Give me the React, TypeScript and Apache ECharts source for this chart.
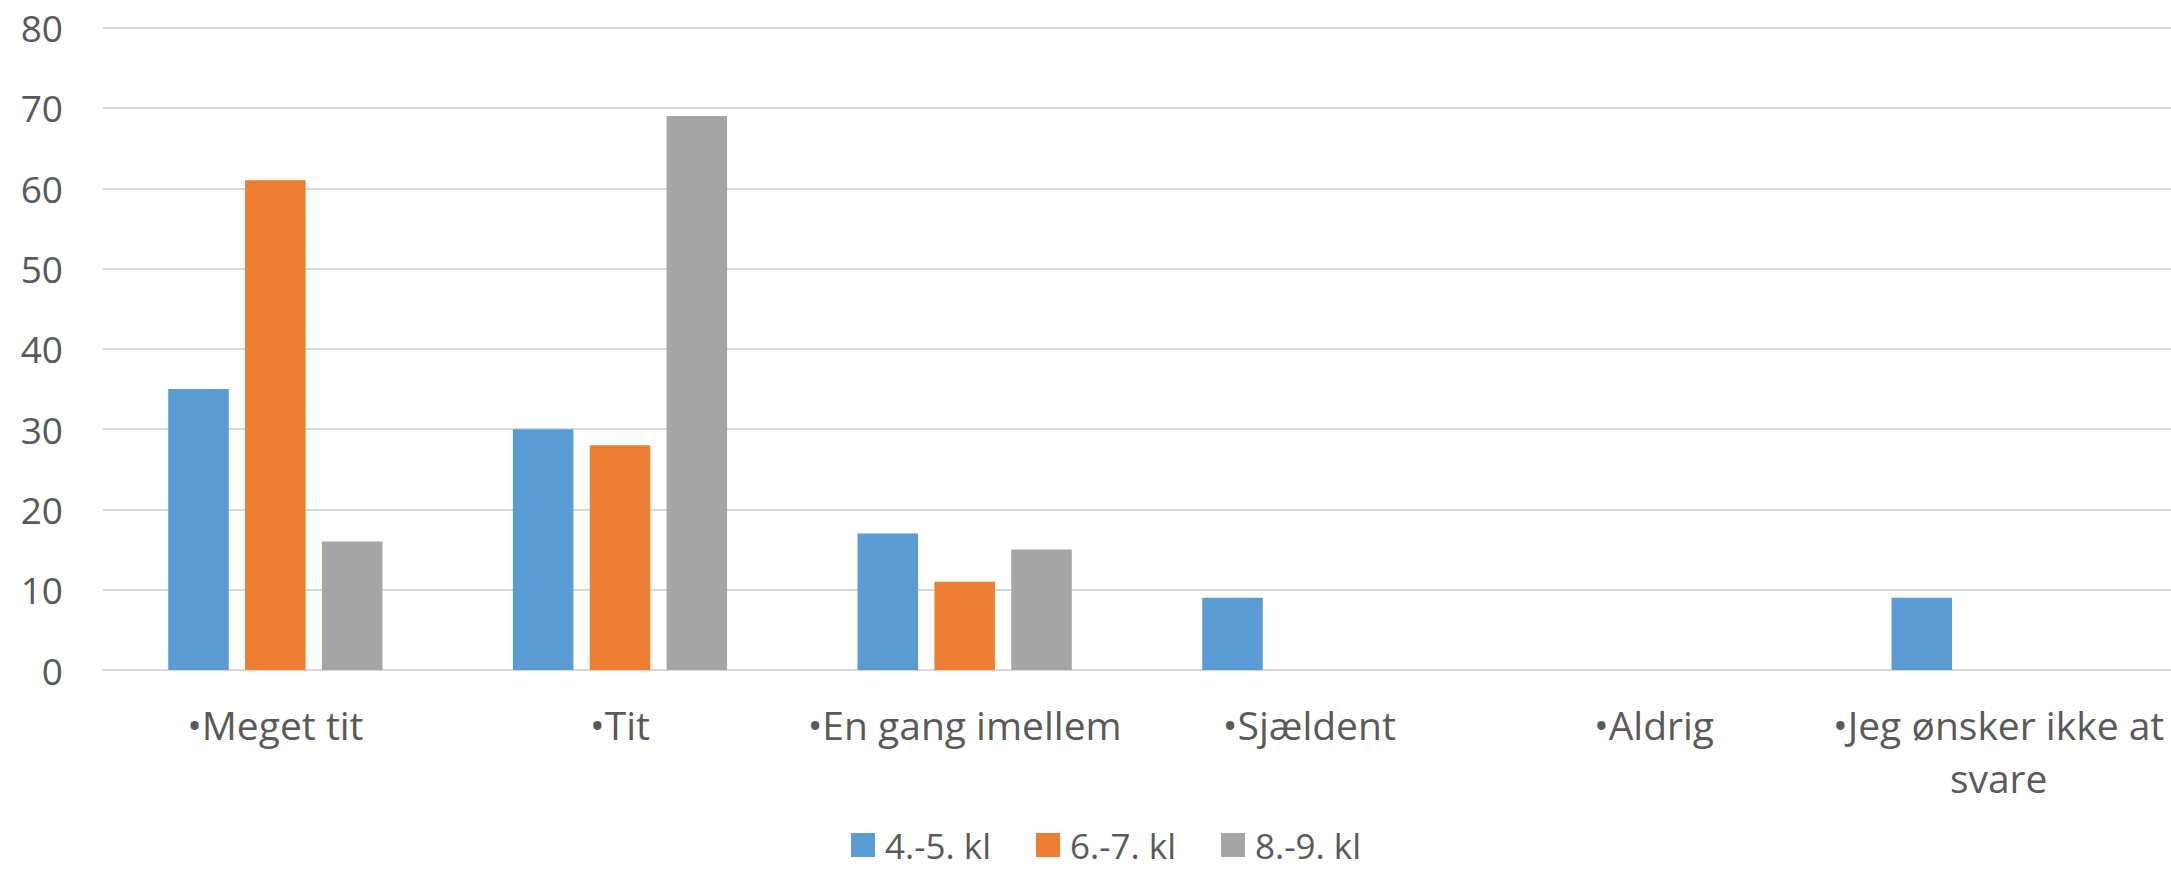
import React, { useEffect, useRef } from "react";
import * as echarts from "echarts";

const categories = [
  "•Meget tit",
  "•Tit",
  "•En gang imellem",
  "•Sjældent",
  "•Aldrig",
  "•Jeg ønsker ikke at\nsvare",
];
const seriesNames = ["4.-5. kl", "6.-7. kl", "8.-9. kl"];
const values45 = [35, 30, 17, 9, 0, 9];
const values67 = [61, 28, 11, 0, 0, 0];
const values89 = [16, 69, 15, 0, 0, 0];
const colors = ["#5B9BD5", "#ED7D31", "#A5A5A5"];

const FONT = "'Open Sans', sans-serif";
const TEXT = "#595959";

export default function App() {
  const ref = useRef<HTMLDivElement>(null);
  useEffect(() => {
    if (!ref.current) return;
    document.body.style.margin = "0";
    const chart = echarts.init(ref.current, undefined, { renderer: "svg" });
    const data = [values45, values67, values89];
    chart.setOption({
      animation: false,
      backgroundColor: "#ffffff",
      textStyle: { fontFamily: FONT },
      grid: { left: 103, right: 0, top: 27.7, bottom: 199, containLabel: false },
      legend: {
        data: seriesNames,
        left: 851,
        top: 825,
        padding: 0,
        itemWidth: 24,
        itemHeight: 24,
        itemGap: 45,
        icon: "rect",
        textStyle: {
          fontFamily: FONT,
          fontSize: 35,
          color: TEXT,
          lineHeight: 40,
          padding: [0, 0, 0, 5],
        },
      },
      xAxis: {
        type: "category",
        data: categories,
        axisTick: { show: false },
        axisLine: { show: true, lineStyle: { color: "#D9D9D9", width: 2 } },
        axisLabel: {
          interval: 0,
          margin: 28,
          fontFamily: FONT,
          fontSize: 39,
          color: TEXT,
          lineHeight: 53,
        },
      },
      yAxis: {
        type: "value",
        min: 0,
        max: 80,
        interval: 10,
        axisLine: { show: false },
        axisTick: { show: false },
        splitLine: { lineStyle: { color: "#D9D9D9", width: 2 } },
        axisLabel: { margin: 40, fontFamily: FONT, fontSize: 37, color: TEXT },
      },
      series: seriesNames.map((name, i) => ({
        name,
        type: "bar",
        data: data[i],
        barWidth: 60.5,
        barGap: "27%",
        itemStyle: { color: colors[i] },
      })),
    });
    return () => chart.dispose();
  }, []);
  return (
    <div
      ref={ref}
      style={{ position: "fixed", left: 0, top: 0, width: 2171, height: 869 }}
    />
  );
}
